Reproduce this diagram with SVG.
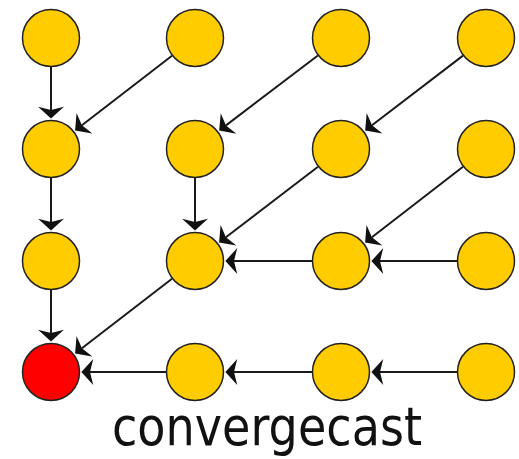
<svg xmlns="http://www.w3.org/2000/svg" width="519" height="459" viewBox="0 0 519 459">
<style>
.node circle{fill:#FFCC00;stroke:#222;stroke-width:1.5}
.node.root circle{fill:#FF0000}
#edges line{stroke:#1a1a1a;stroke-width:2;marker-end:url(#arr)}
.label{font-family:"DejaVu Sans","Liberation Sans",sans-serif;font-size:53px;fill:#111}
</style>
<defs>
<marker id="arr" markerUnits="userSpaceOnUse" markerWidth="14" markerHeight="28" viewBox="0 -13 12 26" refX="3" refY="0" orient="auto">
<path d="M11,0 L0,-12 L3,0 L0,12 Z" fill="#111"/>
</marker>
</defs>
<rect width="519" height="459" fill="#fff"/>
<g id="edges">
<line x1="51" y1="67" x2="51" y2="110"/>
<line x1="172" y1="55.7" x2="81.9" y2="125.2"/>
<line x1="317.9" y1="55.5" x2="226" y2="125.4"/>
<line x1="463" y1="55.6" x2="372" y2="125.3"/>
<line x1="51" y1="178" x2="51" y2="222"/>
<line x1="195" y1="178" x2="195" y2="222"/>
<line x1="318" y1="166.7" x2="225.9" y2="237.3"/>
<line x1="463" y1="166.7" x2="371.9" y2="237.2"/>
<line x1="312" y1="261" x2="234" y2="261"/>
<line x1="457" y1="261" x2="380" y2="261"/>
<line x1="51" y1="290" x2="51" y2="333"/>
<line x1="172" y1="278.7" x2="81.9" y2="348.2"/>
<line x1="166" y1="372" x2="90" y2="372"/>
<line x1="312" y1="372" x2="234" y2="372"/>
<line x1="457" y1="372" x2="380" y2="372"/>
</g>
<g id="n00" class="node"><circle cx="51" cy="38" r="28.5"/></g>
<g id="n10" class="node"><circle cx="195" cy="38" r="28.5"/></g>
<g id="n20" class="node"><circle cx="341" cy="38" r="28.5"/></g>
<g id="n30" class="node"><circle cx="486" cy="38" r="28.5"/></g>
<g id="n01" class="node"><circle cx="51" cy="149" r="28.5"/></g>
<g id="n11" class="node"><circle cx="195" cy="149" r="28.5"/></g>
<g id="n21" class="node"><circle cx="341" cy="149" r="28.5"/></g>
<g id="n31" class="node"><circle cx="486" cy="149" r="28.5"/></g>
<g id="n02" class="node"><circle cx="51" cy="261" r="28.5"/></g>
<g id="n12" class="node"><circle cx="195" cy="261" r="28.5"/></g>
<g id="n22" class="node"><circle cx="341" cy="261" r="28.5"/></g>
<g id="n32" class="node"><circle cx="486" cy="261" r="28.5"/></g>
<g id="root" class="node root"><circle cx="51" cy="372" r="28.5"/></g>
<g id="n13" class="node"><circle cx="195" cy="372" r="28.5"/></g>
<g id="n23" class="node"><circle cx="341" cy="372" r="28.5"/></g>
<g id="n33" class="node"><circle cx="486" cy="372" r="28.5"/></g>
<text class="label" x="112" y="445" textLength="310" lengthAdjust="spacingAndGlyphs">convergecast</text>
</svg>
